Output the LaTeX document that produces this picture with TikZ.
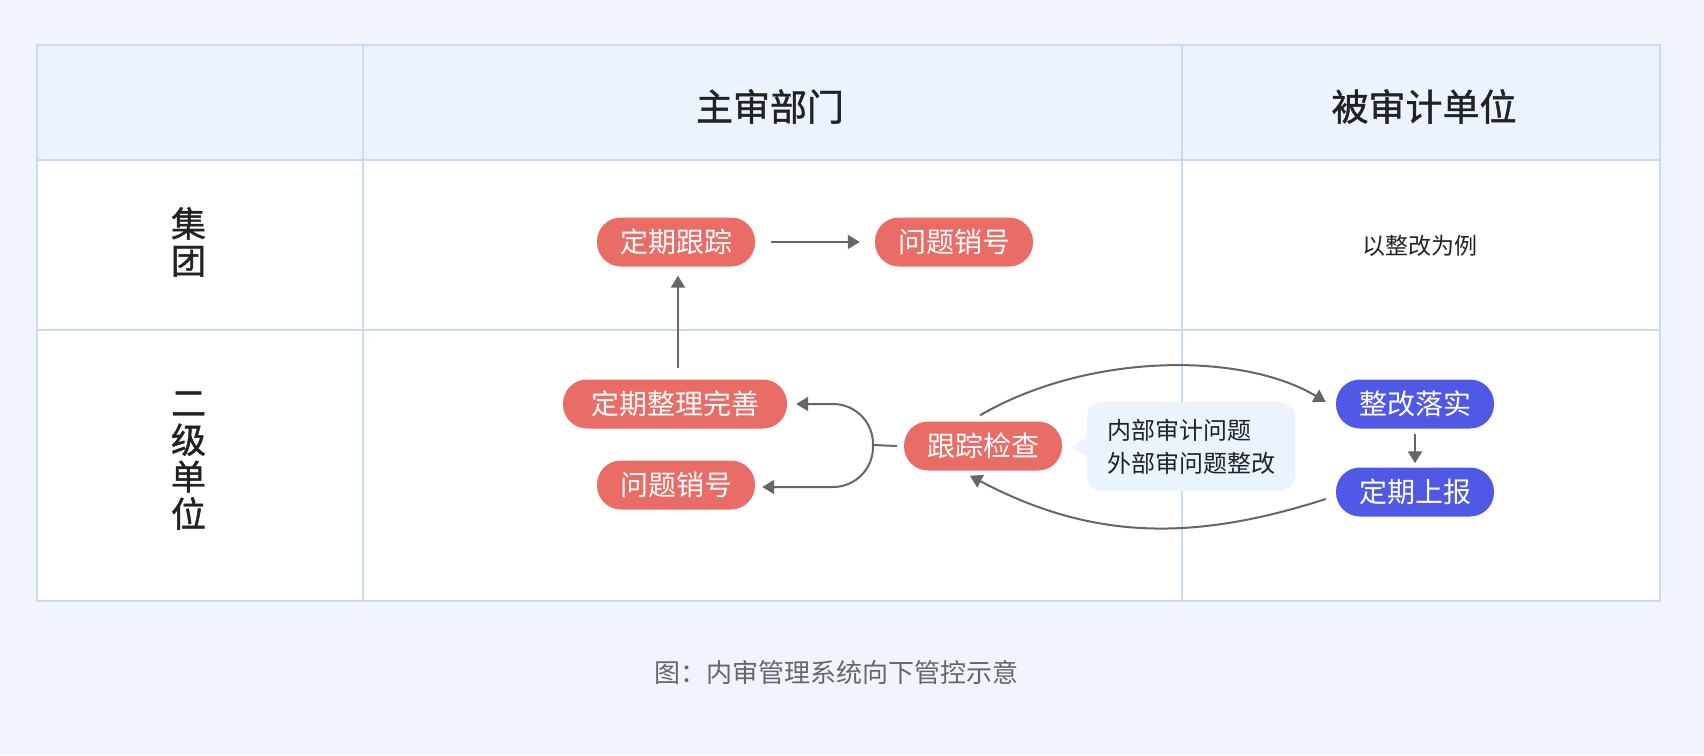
\documentclass[tikz,border=0pt]{standalone}
\usepackage{fontspec}
\setmainfont{Noto Sans CJK SC}
\newfontfamily\medfont[FakeBold=1.2]{Noto Sans CJK SC}
\usetikzlibrary{arrows.meta}
\definecolor{bgc}{HTML}{F0F5FD}
\definecolor{headc}{HTML}{EAF3FE}
\definecolor{gridc}{HTML}{C7DBF5}
\definecolor{nodered}{HTML}{E96C67}
\definecolor{nodeblue}{HTML}{5058E6}
\definecolor{linec}{HTML}{666666}
\definecolor{bubblec}{HTML}{EAF3FE}
\definecolor{textc}{HTML}{222222}
\definecolor{capc}{HTML}{666666}
\begin{document}
\begin{tikzpicture}[x=1pt,y=-1pt,
  pill/.style={rounded corners=24pt, minimum height=49pt, inner sep=0pt, text=white,
    font=\fontsize{28}{34}\selectfont},
  redpill/.style={pill, fill=nodered},
  bluepill/.style={pill, fill=nodeblue},
  arr/.style={draw=linec, line width=2pt, -{Triangle[length=12pt,width=14pt]}},
  conn/.style={draw=linec, line width=2pt},
  grid/.style={draw=gridc, line width=2pt},
  headtext/.style={font=\fontsize{37}{44}\selectfont\medfont, text=textc},
  rowtext/.style={font=\fontsize{35}{37}\selectfont\medfont, text=textc, align=center, inner sep=0pt},
  bubble/.style={fill=bubblec, rounded corners=15pt, minimum width=208pt, minimum height=89pt,
    inner sep=0pt, align=left, text=textc, font=\fontsize{24}{33}\selectfont},
  plain/.style={text=textc, font=\fontsize{23}{28}\selectfont},
  caption/.style={text=capc, font=\fontsize{26}{30}\selectfont}
]
\useasboundingbox (0,0) rectangle (1704,755);
\fill[bgc] (0,0) rectangle (1704,755);
% table
\fill[white] (37,44.5) rectangle (1660,601);
\fill[headc] (37,44.5) rectangle (1660,160);
\draw[grid] (37,44.5) rectangle (1660,601);
\draw[grid] (37,160) -- (1660,160);
\draw[grid] (37,329.5) -- (1660,329.5);
\draw[grid] (363,44.5) -- (363,601);
\draw[grid] (1182,44.5) -- (1182,601);
% headers
\node[headtext] (h1) at (770,106.5) {主审部门};
\node[headtext] (h2) at (1424,106.5) {被审计单位};
\node[rowtext] (r1) at (188.5,242) {\vphantom{集}集\\团};
\node[rowtext] (r2) at (188.5,458) {\vphantom{位}二\\级\\单\\位};
% nodes
\node[redpill, minimum width=158pt] (t1) at (676,242) {定期跟踪};
\node[redpill, minimum width=158pt] (t2) at (954,242) {问题销号};
\node[redpill, minimum width=224pt] (m1) at (675,404) {定期整理完善};
\node[redpill, minimum width=158pt] (b2) at (676,485) {问题销号};
\node[redpill, minimum width=158pt] (k) at (983,446) {跟踪检查};
\node[bluepill, minimum width=158pt] (z1) at (1415,404) {整改落实};
\node[bluepill, minimum width=158pt] (z2) at (1415,492) {定期上报};
\node[plain] (ex) at (1420,246) {以整改为例};
% bubble
\node[bubble] (note) at (1191,446.5) {内部审计问题\\外部审问题整改};
\fill[bubblec] (1072,447) -- ([yshift=9pt]note.west) -- ([yshift=-10pt]note.west) -- cycle;
% connectors
\draw[arr] ([xshift=16pt]t1.east) -- ([xshift=-15pt]t2.west);
\draw[arr] ([xshift=3pt,yshift=11pt]m1.north) -- ([xshift=2pt,yshift=-9pt]t1.south);
\coordinate (j) at (873,445);
\draw[conn] ([xshift=-7pt]k.west) -- (j);
\draw[arr, rounded corners=40pt] (j) |- ([xshift=9pt]m1.east);
\draw[arr, rounded corners=40pt] (j) |- ([xshift=7pt,yshift=-2pt]b2.east);
\draw[arr] ([xshift=-3pt,yshift=6pt]k.north) .. controls (1089,352) and (1243,352) .. ([xshift=-10pt,yshift=2pt]z1.west);
\draw[arr] ([xshift=-10pt,yshift=-7pt]z2.west) .. controls (1195,541) and (1093,541) .. ([xshift=-13pt,yshift=-5pt]k.south);
\draw[arr] ([yshift=-5pt]z1.south) -- ([yshift=4pt]z2.north);
% caption
\node[caption] (cap) at (836,673) {图：内审管理系统向下管控示意};
\end{tikzpicture}
\end{document}
